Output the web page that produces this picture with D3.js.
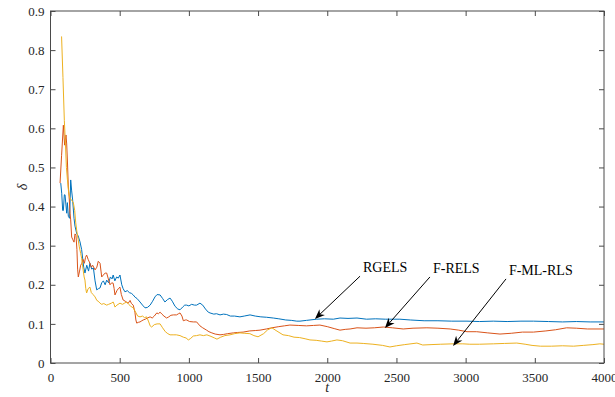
<!DOCTYPE html>
<html>
<head>
<meta charset="utf-8">
<script src="https://cdn.jsdelivr.net/npm/d3@7"></script>
<style>
  body { margin: 0; background: #fff; }
  svg text { font-family: "Times New Roman", "Liberation Serif", Times, serif !important; }
</style>
</head>
<body>
<div id="chart"></div>
<script>
// [t, delta] pairs
const rgels = [[74,0.46],[81,0.434],[88,0.39],[93,0.39],[100,0.43],[105,0.43],[117,0.383],[122,0.41],[129,0.375],[138,0.37],[146,0.468],[153,0.44],[160,0.417],[170,0.37],[177,0.35],[190,0.33],[200,0.325],[213,0.31],[225,0.29],[240,0.245],[249,0.23],[262,0.25],[275,0.235],[285,0.255],[298,0.24],[310,0.243],[322,0.21],[334,0.187],[346,0.19],[358,0.192],[370,0.205],[382,0.21],[395,0.2],[406,0.212],[420,0.205],[433,0.22],[445,0.215],[453,0.225],[465,0.21],[478,0.22],[490,0.217],[502,0.225],[515,0.2],[525,0.19],[538,0.182],[555,0.185],[570,0.18],[585,0.178],[598,0.174],[612,0.168],[625,0.165],[647,0.156],[665,0.148],[683,0.141],[700,0.142],[720,0.148],[738,0.158],[755,0.169],[770,0.175],[792,0.174],[810,0.165],[827,0.156],[845,0.162],[864,0.166],[880,0.158],[900,0.145],[920,0.138],[936,0.136],[955,0.143],[970,0.148],[984,0.148],[1000,0.146],[1020,0.15],[1040,0.148],[1056,0.148],[1080,0.153],[1100,0.148],[1120,0.138],[1140,0.13],[1153,0.128],[1180,0.125],[1200,0.126],[1225,0.123],[1250,0.125],[1273,0.124],[1300,0.12],[1330,0.12],[1369,0.118],[1400,0.12],[1442,0.123],[1480,0.12],[1520,0.118],[1560,0.117],[1610,0.115],[1650,0.113],[1700,0.11],[1740,0.109],[1780,0.107],[1803,0.107],[1850,0.109],[1924,0.112],[1980,0.113],[2044,0.112],[2092,0.115],[2150,0.114],[2215,0.115],[2284,0.112],[2350,0.113],[2420,0.112],[2525,0.112],[2600,0.11],[2700,0.108],[2800,0.108],[2900,0.107],[3010,0.107],[3100,0.106],[3200,0.107],[3300,0.106],[3400,0.107],[3490,0.107],[3600,0.106],[3700,0.105],[3800,0.106],[3900,0.105],[4000,0.105]];

const frels = [[69,0.46],[80,0.53],[93,0.608],[102,0.557],[112,0.583],[117,0.56],[122,0.519],[129,0.45],[136,0.417],[141,0.383],[146,0.366],[153,0.322],[162,0.315],[170,0.309],[177,0.33],[184,0.327],[191,0.29],[196,0.24],[201,0.22],[210,0.235],[218,0.25],[227,0.255],[235,0.265],[245,0.255],[253,0.27],[261,0.276],[272,0.265],[285,0.255],[295,0.245],[305,0.25],[322,0.238],[335,0.245],[345,0.26],[358,0.255],[365,0.235],[370,0.22],[382,0.225],[395,0.23],[406,0.23],[418,0.215],[430,0.2],[442,0.205],[453,0.204],[460,0.19],[466,0.174],[480,0.185],[490,0.19],[502,0.194],[512,0.175],[525,0.161],[540,0.158],[552,0.155],[562,0.153],[575,0.16],[585,0.152],[598,0.148],[610,0.13],[617,0.11],[623,0.102],[635,0.104],[647,0.105],[660,0.108],[670,0.11],[685,0.112],[700,0.115],[720,0.118],[735,0.115],[750,0.12],[768,0.128],[780,0.126],[792,0.13],[805,0.125],[820,0.12],[839,0.115],[855,0.118],[870,0.122],[888,0.123],[911,0.123],[925,0.126],[936,0.128],[950,0.12],[960,0.108],[975,0.11],[984,0.11],[1005,0.106],[1032,0.105],[1056,0.105],[1080,0.095],[1100,0.09],[1128,0.084],[1145,0.08],[1166,0.077],[1190,0.074],[1225,0.072],[1250,0.073],[1280,0.075],[1321,0.077],[1350,0.078],[1392,0.079],[1440,0.082],[1480,0.083],[1514,0.084],[1560,0.087],[1600,0.09],[1650,0.093],[1690,0.095],[1730,0.097],[1790,0.096],[1850,0.095],[1900,0.096],[1947,0.097],[2000,0.093],[2050,0.088],[2092,0.084],[2130,0.086],[2165,0.087],[2215,0.09],[2280,0.089],[2340,0.09],[2405,0.092],[2470,0.09],[2549,0.087],[2620,0.089],[2720,0.09],[2800,0.089],[2888,0.087],[2950,0.084],[3010,0.08],[3080,0.08],[3160,0.077],[3248,0.074],[3330,0.076],[3410,0.079],[3490,0.079],[3580,0.082],[3650,0.085],[3730,0.09],[3800,0.089],[3880,0.087],[4000,0.087]];

const fmlrls = [[80,0.835],[90,0.73],[100,0.62],[108,0.56],[115,0.5],[122,0.47],[130,0.44],[141,0.42],[150,0.418],[165,0.41],[175,0.39],[182,0.36],[189,0.34],[200,0.315],[208,0.297],[218,0.28],[225,0.268],[235,0.24],[243,0.22],[249,0.212],[255,0.19],[261,0.179],[272,0.19],[285,0.194],[295,0.18],[308,0.175],[322,0.169],[335,0.16],[345,0.158],[358,0.153],[370,0.15],[385,0.152],[406,0.148],[420,0.15],[440,0.153],[453,0.156],[460,0.15],[466,0.143],[480,0.148],[502,0.153],[520,0.15],[535,0.153],[550,0.156],[565,0.15],[580,0.145],[598,0.141],[615,0.13],[630,0.12],[647,0.118],[665,0.12],[680,0.116],[695,0.118],[710,0.105],[720,0.095],[731,0.092],[750,0.098],[770,0.1],[792,0.1],[810,0.09],[830,0.08],[848,0.075],[864,0.072],[886,0.072],[910,0.072],[936,0.07],[960,0.066],[980,0.064],[996,0.059],[1010,0.062],[1032,0.069],[1055,0.07],[1080,0.072],[1105,0.07],[1130,0.072],[1160,0.068],[1185,0.064],[1203,0.061],[1230,0.066],[1260,0.07],[1297,0.072],[1330,0.075],[1369,0.077],[1400,0.076],[1441,0.075],[1470,0.07],[1500,0.067],[1540,0.075],[1570,0.085],[1600,0.09],[1630,0.083],[1680,0.072],[1720,0.07],[1760,0.066],[1800,0.065],[1840,0.062],[1875,0.059],[1920,0.058],[1960,0.056],[1998,0.054],[2030,0.056],[2070,0.059],[2110,0.057],[2165,0.051],[2215,0.051],[2260,0.05],[2330,0.048],[2400,0.045],[2453,0.041],[2500,0.044],[2560,0.047],[2648,0.051],[2690,0.046],[2750,0.047],[2820,0.048],[2910,0.049],[2980,0.049],[3030,0.048],[3100,0.048],[3200,0.049],[3280,0.05],[3370,0.051],[3430,0.048],[3480,0.045],[3540,0.043],[3620,0.043],[3700,0.044],[3780,0.043],[3850,0.045],[3920,0.047],[3970,0.049],[4000,0.048]];

const seriesNames = ["RGELS", "F-RELS", "F-ML-RLS"];
const seriesData = [rgels, frels, fmlrls];
const seriesColors = ["#0072BD", "#D95319", "#EDB120"];

const xTicks = [0, 500, 1000, 1500, 2000, 2500, 3000, 3500, 4000];
const yTicks = [0, 0.1, 0.2, 0.3, 0.4, 0.5, 0.6, 0.7, 0.8, 0.9];

// annotation: label position and arrow tail / tip, in data units
const labelPos = [[2258, 0.233], [2764, 0.23], [3313, 0.225]];
const arrowTail = [[2237, 0.222], [2742, 0.22], [3292, 0.215]];
const arrowTip = [[1911, 0.1125], [2417, 0.0895], [2909, 0.0435]];

let margin = {top: 11, right: 11, bottom: 34, left: 50.5},
  width = 615 - margin.left - margin.right,
  height = 397 - margin.top - margin.bottom;

let svg = d3.select("#chart")
  .append("svg")
  .attr("width", 615)
  .attr("height", 397)
  .append("g")
  .attr("transform", "translate(" + margin.left + "," + margin.top + ")");

let x = d3.scaleLinear().domain([0, 4000]).range([0, width]);
let y = d3.scaleLinear().domain([0, 0.9]).range([height, 0]);

const axisColor = "#4a4a4a";
const tickLen = 5;
const serif = "Times New Roman, Liberation Serif, serif";

// series
let line = d3.line()
  .x(d => x(d[0]))
  .y(d => y(d[1]));

seriesData.forEach((s, i) => {
  svg.append("path")
    .datum(s)
    .attr("fill", "none")
    .attr("stroke", seriesColors[i])
    .attr("stroke-width", 1)
    .attr("stroke-linejoin", "round")
    .attr("d", line);
});

// axes (ticks inside, box on)
function styleAxis(g) {
  g.attr("font-family", serif).attr("font-size", 13);
  g.select(".domain").remove();
  g.selectAll("line").attr("stroke", axisColor);
  g.selectAll("text").attr("fill", "#262626");
}

svg.append("g")
  .attr("transform", "translate(0," + height + ")")
  .call(d3.axisBottom(x).tickValues(xTicks).tickSizeInner(-tickLen).tickSizeOuter(0).tickPadding(10)
    .tickFormat(d3.format("d")))
  .call(styleAxis);

svg.append("g")
  .call(d3.axisTop(x).tickValues(xTicks).tickSizeInner(-tickLen).tickSizeOuter(0).tickFormat(""))
  .call(styleAxis);

svg.append("g")
  .call(d3.axisLeft(y).tickValues(yTicks).tickSizeInner(-tickLen).tickSizeOuter(0).tickPadding(6)
    .tickFormat(d => d === 0 ? "0" : d3.format(".1f")(d)))
  .call(styleAxis);

svg.append("g")
  .attr("transform", "translate(" + width + ",0)")
  .call(d3.axisRight(y).tickValues(yTicks).tickSizeInner(-tickLen).tickSizeOuter(0).tickFormat(""))
  .call(styleAxis);

svg.append("rect")
  .attr("x", 0)
  .attr("y", 0)
  .attr("width", width)
  .attr("height", height)
  .attr("fill", "none")
  .attr("stroke", axisColor)
  .attr("stroke-width", 1);

// axis labels
svg.append("text")
  .attr("x", width / 2)
  .attr("y", height + 29)
  .attr("text-anchor", "middle")
  .attr("font-style", "italic")
  .attr("fill", "#262626")
  .style("font-size", "14px")
  .text("t");

svg.append("text")
  .attr("transform", "translate(" + (-24) + "," + (height / 2) + ") rotate(-90)")
  .attr("text-anchor", "middle")
  .attr("font-style", "italic")
  .attr("fill", "#262626")
  .style("font-size", "14px")
  .text("δ");

// annotations with arrows
seriesNames.forEach((name, i) => {
  svg.append("text")
    .attr("x", x(labelPos[i][0]))
    .attr("y", y(labelPos[i][1]))
    .attr("fill", "#000")
    .style("font-size", "14px")
    .text(name);

  let x0 = x(arrowTail[i][0]), y0 = y(arrowTail[i][1]);
  let x1 = x(arrowTip[i][0]), y1 = y(arrowTip[i][1]);
  let ang = Math.atan2(y1 - y0, x1 - x0);
  let headLen = 10, headW = 4, back = 7;

  // shaft stops at the head's notch
  svg.append("line")
    .attr("x1", x0).attr("y1", y0)
    .attr("x2", x1 - back * Math.cos(ang)).attr("y2", y1 - back * Math.sin(ang))
    .attr("stroke", "#000")
    .attr("stroke-width", 1);

  let c = Math.cos(ang), s = Math.sin(ang);
  let pt = (a, b) => [x1 + a * c - b * s, y1 + a * s + b * c];
  let head = [pt(0, 0), pt(-headLen, -headW), pt(-back, 0), pt(-headLen, headW)];
  svg.append("path")
    .attr("d", "M" + head.map(p => p.join(",")).join("L") + "Z")
    .attr("fill", "#000");
});
</script>
</body>
</html>
